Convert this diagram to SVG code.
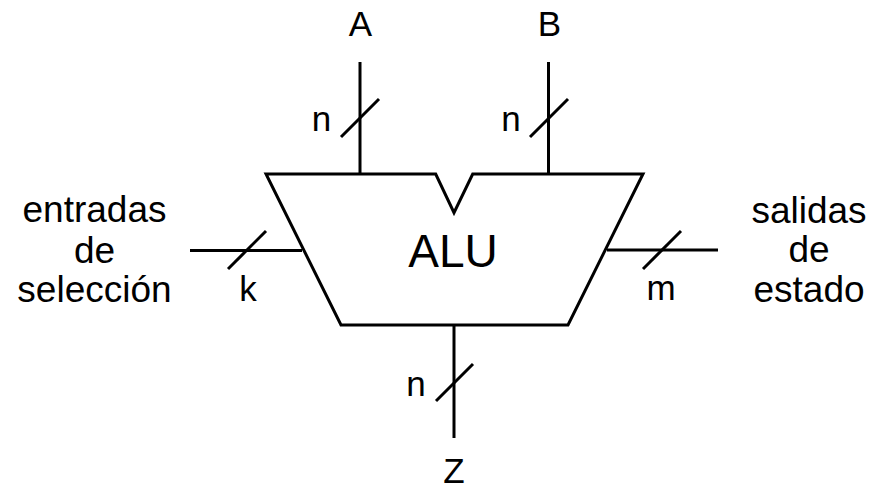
<svg xmlns="http://www.w3.org/2000/svg" width="874" height="491" viewBox="0 0 874 491">
<style>
.ln{stroke:#000;stroke-width:3;fill:none;stroke-linecap:butt}
.t{font-family:"Liberation Sans",Arial,sans-serif;font-size:35px;fill:#000;text-anchor:middle}
.side{font-size:37px}
.big{font-size:46px}
</style>
<rect width="874" height="491" fill="#fff"/>
<g id="alu">
<path class="ln" d="M266,174 L435.7,174 L454,212.7 L472.7,174 L643,174 L568,325 L341,325 Z"/>
<text class="t big" x="453" y="267">ALU</text>
</g>
<g id="connectors">
<line class="ln" x1="360" y1="62" x2="360" y2="174"/>
<line class="ln" x1="341" y1="137" x2="379" y2="99"/>
<line class="ln" x1="548.5" y1="62" x2="548.5" y2="174"/>
<line class="ln" x1="530" y1="137" x2="568" y2="99"/>
<line class="ln" x1="190" y1="250.5" x2="302" y2="250.5"/>
<line class="ln" x1="228" y1="269" x2="266" y2="231"/>
<line class="ln" x1="607" y1="250" x2="718" y2="250"/>
<line class="ln" x1="643" y1="269" x2="681" y2="231"/>
<line class="ln" x1="454" y1="325" x2="454" y2="438"/>
<line class="ln" x1="436" y1="401" x2="473" y2="364"/>
</g>
<g id="labels">
<text class="t" x="360.5" y="36">A</text>
<text class="t" x="549.5" y="36">B</text>
<text class="t" x="321.5" y="131">n</text>
<text class="t" x="511" y="131">n</text>
<text class="t" x="248" y="301">k</text>
<text class="t" x="661" y="300">m</text>
<text class="t" x="416" y="396">n</text>
<text class="t" x="454" y="483">Z</text>
</g>
<g id="sel">
<text class="t side" x="94.5" y="222">entradas</text>
<text class="t side" x="94.5" y="263">de</text>
<text class="t side" x="94.5" y="302">selección</text>
</g>
<g id="est">
<text class="t side" x="809" y="223">salidas</text>
<text class="t side" x="809" y="262">de</text>
<text class="t side" x="809" y="302">estado</text>
</g>
</svg>
